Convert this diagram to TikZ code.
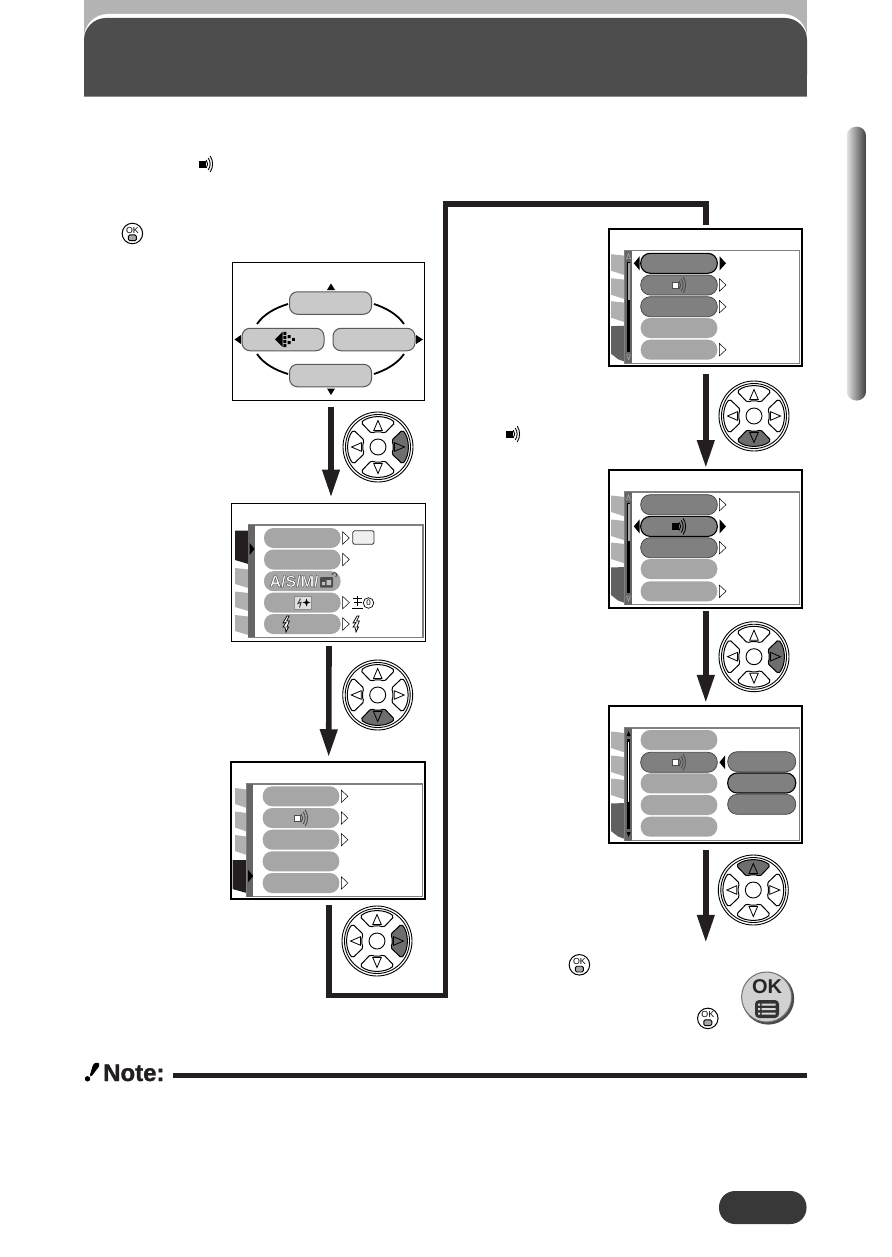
\documentclass[tikz,border=0pt]{standalone}
\usepackage{fontspec}
\setmainfont{Liberation Sans}
\newfontfamily\asmfont[UprightFont=* Bold,FakeBold=2.4]{Liberation Sans}
\newfontfamily\notefont[UprightFont=* Bold,FakeBold=1.2]{Liberation Sans}
\usetikzlibrary{arrows.meta,shapes.geometric}
\definecolor{ink}{HTML}{231F20}
\definecolor{hdark}{HTML}{4D4D4D}
\definecolor{hband}{HTML}{B3B3B3}
\definecolor{pilloffc}{HTML}{A6A6A6}
\definecolor{pillonc}{HTML}{808080}
\definecolor{tabc}{HTML}{B0B0B0}
\definecolor{barc}{HTML}{666666}
\definecolor{padc}{HTML}{6E6E6E}
\tikzset{
  scrthin/.style={draw=black,line width=1pt,fill=white,rectangle,inner sep=0,outer sep=0},
  scrthick/.style={draw=black,line width=2pt,fill=white,rectangle,inner sep=0,outer sep=0},
  pillbase/.style={rectangle,inner sep=0,outer sep=0,minimum width=76.6pt,minimum height=20pt,rounded corners=9.5pt},
  pilloff/.style={pillbase,fill=pilloffc},
  pillon/.style={pillbase,fill=pillonc,draw=black!75,line width=.7pt},
  pillsel/.style={pillbase,fill=pillonc,draw=black,line width=1.1pt},
  homepill/.style={rectangle,inner sep=0,outer sep=0,minimum width=82pt,minimum height=22.5pt,rounded corners=8pt,fill=black!21,draw=black!65,line width=1pt},
  flow/.style={draw=ink,line width=5.6pt},
  flowarr/.style={flow,-{Triangle[length=28pt,width=16.5pt]}},
  panelline/.style={draw=black!50,line width=1.2pt,fill=white},
  wtri/.style={draw=black,line width=.5pt,fill=white},
  btri/.style={fill=black},
  homearc/.style={draw=black,line width=1.8pt},
}
% white triangle pointing right
\newcommand\wtr[2]{\draw[wtri] (#1,#2-6.2) -- (#1+6.6,#2) -- (#1,#2+6.2) -- cycle;}
\newcommand\btr[2]{\fill[btri] (#1,#2-7) -- (#1+6.4,#2) -- (#1,#2+7) -- cycle;}
\newcommand\btl[2]{\fill[btri] (#1,#2-7) -- (#1-5.8,#2) -- (#1,#2+7) -- cycle;}
% d-pad: name,x,y,active angle
\newcommand\dpad[4]{%
  \node[circle,draw=black,line width=.9pt,fill=white,minimum size=70pt,inner sep=0] (#1) at (#2,#3) {};
  \begin{scope}[shift={(#2,#3)}]
    \draw[black,line width=.9pt] (0,0) circle (32.5pt);
    \foreach \a in {0,90,180,270}{%
      \ifnum\a=#4\relax\def\bf{padc}\else\def\bf{white}\fi
      \begin{scope}[rotate=\a]
        \draw[black,line width=1pt,fill=\bf,rounded corners=1.8pt]
          (-17,-24.5) .. controls (-8,-32) and (8,-32) .. (17,-24.5)
          -- (6.5,-13.5) .. controls (3,-15.5) and (-3,-15.5) .. (-6.5,-13.5) -- cycle;
        \draw[black,line width=.8pt,fill=\bf] (0,-26.5) -- (4.3,-16.5) -- (-4.3,-16.5) -- cycle;
      \end{scope}
    }
    \node[circle,draw=black,line width=.9pt,fill=white,minimum size=16pt,inner sep=0] (#1c) at (0,0) {};
  \end{scope}
}
% OK icon
\newcommand\okicon[3]{%
  \node[circle,draw=black,line width=1pt,fill=white,minimum size=20.5pt,inner sep=0] (#1) at (#2,#3) {};
  \begin{scope}[shift={(#2,#3)}]
    \node[inner sep=0,font=\fontsize{8.8}{9}\selectfont] (#1t) at (0,-3.5) {OK};
    \draw[black,line width=.9pt,fill=black!35,rounded corners=1.4pt] (-4,1.4) rectangle (4,7.2);
  \end{scope}
}
% speaker: x,y,fill,arc colour
\newcommand\spk[4]{%
  \begin{scope}[shift={(#1,#2)}]
    \draw[#4,line width=.4pt,fill=#3] (-6.6,-3.2) rectangle (-1,3.2);
    \draw[#4,line width=.9pt] (.2,-4) .. controls (2.2,-1.5) and (2.2,1.5) .. (.2,4);
    \draw[#4,line width=.9pt] (2.2,-6) .. controls (4.8,-2) and (4.8,2) .. (2.2,6);
    \draw[#4,line width=.9pt] (4.2,-8) .. controls (7.4,-3) and (7.4,3) .. (4.2,8);
  \end{scope}
}
% flash bolt
\newcommand\bolt[2]{%
  \draw[black,line width=.7pt,fill=white] (#1+1,#2-8) -- (#1-3,#2-1) -- (#1,#2-1.5) -- (#1-3,#2+3) -- (#1-1,#2+3) -- (#1,#2+8) -- (#1+2.5,#2+3) -- (#1+.8,#2+3) -- (#1+3.4,#2-3) -- (#1+.6,#2-3) -- (#1+3,#2-8) -- cycle;
}
% slanted tab
\newcommand\mtab[6]{\fill[#1] (#2,#4) -- (#3,#4+1.5) -- (#3,#5+#6) -- (#2,#5) -- cycle;}
% right-hand scroll screen
\newcommand\scrollframe[1]{%
  \mtab{tabc}{611}{625}{25.5}{42}{4.5}
  \mtab{tabc}{611}{625}{49.5}{66}{4.5}
  \mtab{tabc}{611}{625}{72.5}{89}{4.5}
  \fill[black!62] (611,97.5) -- (625,97) -- (625,133) -- (618,130.5) -- (611,125) -- cycle;
  \draw[panelline] (625,22) rectangle (799.4,134.6);
  \fill[barc] (625,22) rectangle (632,134.6);
}
\newcommand\scrollpipe{%
  \fill[black] (626.8,33) rectangle (630.2,123);
  \fill[black!35] (627.5,34) rectangle (629.5,71);
  \draw[white!75!black,line width=.4pt] (628.5,25) -- (630.5,30) -- (626.5,30) -- cycle;
  \draw[white!75!black,line width=.4pt] (628.5,131) -- (630.5,126) -- (626.5,126) -- cycle;
}
\begin{document}
\begin{tikzpicture}[x=1pt,y=-1pt]
\useasboundingbox (0,0) rectangle (891,1257);
\fill[white] (0,0) rectangle (891,1257);

% ---------- header ----------
\fill[hband] (84,0) rectangle (807,42);
\fill[white,rounded corners=24pt] (84,97) -- (84,14) -- (807,14) -- (807,97) -- cycle;
\fill[hdark,rounded corners=22pt] (84,97) -- (84,18) -- (807,18) -- (807,97) -- cycle;
\fill[hdark] (84,50) rectangle (807,96.4);
\fill[black!45] (84,96.4) rectangle (807,97.4);

% ---------- side thumb ----------
\shade[left color=black!12,right color=black!75,rounded corners=9pt] (847,126.7) rectangle (866,400.5);

% ---------- inline icons ----------
\spk{206}{164}{black}{black}
\okicon{ok1}{132.4}{233.5}
\spk{513}{434}{black}{black}
\okicon{ok2}{579.4}{964.8}
\okicon{ok3}{707.8}{1018.4}

% ---------- screens and flow lines ----------
\node[scrthin,minimum width=192.5pt,minimum height=138pt] (scr1) at (328.5,331) {};
\node[scrthin,minimum width=194pt,minimum height=138.5pt] (scr2) at (328.5,572.3) {};
\node[scrthick,minimum width=193.5pt,minimum height=137.5pt] (scr3) at (328.2,830.5) {};
\node[scrthick,minimum width=193pt,minimum height=137.5pt] (scr4) at (705.8,297.4) {};
\node[scrthick,minimum width=193pt,minimum height=137.5pt] (scr5) at (705.8,538.8) {};
\node[scrthick,minimum width=193pt,minimum height=137.5pt] (scr6) at (705.8,774.7) {};

\draw[flowarr] ([xshift=2.5pt,yshift=-6.5pt]scr1.south) -- ([xshift=2.5pt,yshift=5.5pt]scr2.north);
\draw[flowarr] ([xshift=.5pt,yshift=-4.5pt]scr2.south) -- ([xshift=.5pt,yshift=4.5pt]scr3.north);
\coordinate (elbowA) at (445.5,995.5);
\coordinate (elbowB) at (445.5,204);
\draw[flow,line join=miter] ([xshift=.8pt,yshift=-6pt]scr3.south) |- (elbowA) -- (elbowB) -| ([yshift=4pt]scr4.north);
\draw[flowarr] ([yshift=-8pt]scr4.south) -- ([yshift=2pt]scr5.north);
\draw[flowarr] ([yshift=-3.5pt]scr5.south) -- ([yshift=3pt]scr6.north);
\node[inner sep=0,minimum size=0] (finish) at (705.8,943) {};
\draw[flowarr] ([yshift=-6.5pt]scr6.south) -- (finish);

% ---------- screen 1 ----------
\node[homepill] (hTop) at (330.5,303) {};
\node[homepill] (hLeft) at (283,339.5) {};
\node[homepill] (hRight) at (374,339.5) {};
\node[homepill] (hBottom) at (330.5,375.5) {};
\draw[homearc] (257,324) .. controls (264,314) and (275,308) .. (288,304);
\draw[homearc] (404,324) .. controls (397,314) and (386,308) .. (374,304);
\draw[homearc] (257,354) .. controls (264,364) and (275,370) .. (288,374);
\draw[homearc] (404,354) .. controls (397,364) and (386,370) .. (374,374);
\fill (331,283.5) -- (335,290) -- (327,290) -- cycle;
\fill (331,395) -- (335,388.5) -- (327,388.5) -- cycle;
\fill (234.5,339.5) -- (241,335) -- (241,344) -- cycle;
\fill (423,339.5) -- (416,335) -- (416,344) -- cycle;
\fill (275,339.5) -- (282.7,331.7) -- (282.7,347) -- cycle;
\fill (283.4,331.8) rectangle (286.4,335) (283.4,336) rectangle (286.4,339) (283.4,340) rectangle (286.4,343) (283.4,344) rectangle (286.4,347);
\fill (287.6,335) rectangle (290.6,338) (287.6,341) rectangle (290.6,344);
\fill (292,338) rectangle (295,341);

% ---------- screen 2 ----------
\mtab{tabc}{235}{248.3}{568}{584}{4}
\mtab{tabc}{235}{248.3}{591.5}{607}{4}
\mtab{tabc}{235}{248.3}{615}{631}{4}
\fill[ink] (235,530.5) -- (248.3,530.5) -- (248.3,564) -- (235,560) -- cycle;
\draw[panelline] (248.3,525) rectangle (423,637.3);
\fill[barc] (248.3,525) rectangle (255,637.3);
\fill[black] (249.5,543) -- (254.6,549) -- (249.5,555) -- cycle;
\node[pilloff] (m1) at (302.3,538) {};
\node[pilloff] (m2) at (302.3,559.5) {};
\node[pilloff] (m3) at (302.3,581.2) {};
\node[pilloff] (m4) at (302.3,602.6) {};
\node[pilloff] (m5) at (302.3,624) {};
\foreach \y in {538,559.5,602.6,624}{\wtr{342.7}{\y}}
\draw[black!80,line width=.8pt,fill=black!6,rounded corners=1.5pt] (352.8,530.8) rectangle (374,544.3);
\node[inner sep=0,font=\asmfont\fontsize{16}{16}\selectfont] (asm) at (294,581.2)
  {\textcolor{white}{\special{pdf:code 0.25 G}A/S/M/}};
\fill[black!70,rounded corners=1pt] (320,577) rectangle (333,587.5);
\fill[black!25] (322,582) rectangle (325,585) (326.5,580) rectangle (331,585);
\draw[black!70,line width=.9pt] (332,575) arc (180:-60:2.4pt);
\fill[black!12] (294.3,596.7) rectangle (311.2,609);
\draw[black!45,line width=.5pt] (294.3,596.7) rectangle (311.2,609);
\draw[black!75,line width=1pt] (300.5,598.5) -- (298,603.5) -- (301,602.5) -- (299.5,607.5);
\fill[black] (306.5,598.5) -- (307.5,601.5) -- (310.3,602.5) -- (307.5,603.5) -- (306.5,606.5) -- (305.5,603.5) -- (302.7,602.5) -- (305.5,601.5) -- cycle;
\draw[black,line width=1pt] (353,598.5) -- (362,598.5) (357.5,596) -- (357.5,606) (353.5,602.5) -- (361.5,602.5) (352,608.5) -- (363,608.5);
\node[circle,draw=black,line width=.7pt,inner sep=0,minimum size=10.5pt,font=\fontsize{8}{8}\selectfont] (ev) at (368.5,603) {0};
\bolt{286}{624}
\bolt{356}{624}

% ---------- screen 3 ----------
\mtab{tabc}{235}{246.7}{788}{804}{4}
\mtab{tabc}{235}{246.7}{811.5}{827.5}{4}
\mtab{tabc}{235}{246.7}{835}{851}{4}
\fill[ink] (232.5,860) -- (246.7,860) -- (246.7,893) -- (232.5,889) -- cycle;
\draw[panelline] (246.7,784) rectangle (422.3,896.7);
\fill[barc] (246.7,784) rectangle (253,896.7);
\fill[black] (248.2,870) -- (253.2,876) -- (248.2,882) -- cycle;
\node[pilloff] (n1) at (301,796.3) {};
\node[pilloff] (n2) at (301,818) {};
\node[pilloff] (n3) at (301,839.7) {};
\node[pilloff] (n4) at (301,861.3) {};
\node[pilloff] (n5) at (301,883) {};
\foreach \y in {796.3,818,839.7,883}{\wtr{341.3}{\y}}
\spk{301}{818}{white}{black!70}

% ---------- screen 4 ----------
\begin{scope}[shift={(0,228.7)}]
\scrollframe{a}
\scrollpipe
\node[pillsel] (p1) at (679,34.6) {};
\node[pillon] (p2) at (679,56.3) {};
\node[pillon] (p3) at (679,78) {};
\node[pilloff] (p4) at (679,99.3) {};
\node[pilloff] (p5) at (679,121) {};
\btl{639.6}{34.6}
\btr{719.6}{34.6}
\foreach \y in {56.3,78,121}{\wtr{719.4}{\y}}
\spk{679}{56.3}{white}{black!70}
\end{scope}

% ---------- screen 5 ----------
\begin{scope}[shift={(0,470)}]
\scrollframe{b}
\scrollpipe
\node[pillon] (q1) at (679,34.7) {};
\node[pillsel] (q2) at (679,56.4) {};
\node[pillon] (q3) at (679,77.7) {};
\node[pilloff] (q4) at (679,99) {};
\node[pilloff] (q5) at (679,121.3) {};
\btl{639.6}{56.4}
\btr{719.6}{56.4}
\foreach \y in {34.7,77.7,121.3}{\wtr{719.4}{\y}}
\spk{679}{56.4}{black}{black}
\end{scope}

% ---------- screen 6 ----------
\begin{scope}[shift={(0,706)}]
\scrollframe{c}
\fill[black] (626.8,33) rectangle (630.2,123);
\fill[white] (628,36) rectangle (629.2,96);
\fill[black] (628.6,25) -- (630.6,30) -- (626.6,30) -- cycle;
\fill[black] (628.6,131) -- (630.6,126) -- (626.6,126) -- cycle;
\node[pilloff] (u1) at (679,34) {};
\node[pillon] (u2) at (679,56.3) {};
\node[pilloff] (u3) at (679,77.3) {};
\node[pilloff] (u4) at (679,99) {};
\node[pilloff] (u5) at (679,120.7) {};
\spk{679}{56.3}{white}{black!70}
\btl{725.2}{56.3}
\node[pillon,minimum width=68pt] (v1) at (761.7,55.7) {};
\node[pillsel,minimum width=68pt] (v2) at (761.7,77) {};
\node[pillon,minimum width=68pt] (v3) at (761.7,98.3) {};
\end{scope}

% ---------- d-pads ----------
\dpad{d1}{378}{447}{270}
\dpad{d2}{377.7}{695}{180}
\dpad{d3}{377}{941}{270}
\dpad{d4}{754}{416}{180}
\dpad{d5}{754}{656.7}{270}
\dpad{d6}{753.3}{890}{0}

% ---------- big OK button ----------
\fill[black!70] (768.2,998.6) circle (26pt);
\node[circle,draw=black!55,line width=1pt,fill=black!18,minimum size=50pt,inner sep=0] (okbig) at (766.6,997) {};
\node[inner sep=0,font=\bfseries\fontsize{20}{20}\selectfont,text=black!85] (okbigt) at (767,987) {OK};
\fill[black!80,rounded corners=4pt] (755,1000) rectangle (779,1018);
\fill[black!15] (758,1003.5) rectangle (760,1005.5) (758,1008) rectangle (760,1010) (758,1012.5) rectangle (760,1014.5);
\fill[black!15] (761.5,1003.5) rectangle (775.5,1005.5) (761.5,1008) rectangle (775.5,1010) (761.5,1012.5) rectangle (775.5,1014.5);

% ---------- note ----------
\fill[black] (96,1062.8) .. controls (99,1062.2) and (100.2,1064) .. (99,1066.5) -- (92.2,1075.5) .. controls (91,1077) and (89.6,1076.4) .. (90,1074.8) -- (92.6,1066) .. controls (93,1064) and (94.5,1063.1) .. (96,1062.8) -- cycle;
\fill[black] (87.5,1078.8) circle (2.7pt);
\node[anchor=base west,inner sep=0,font=\notefont\fontsize{24}{24}\selectfont,text=ink] (note) at (103,1081) {Note:};
\node[inner sep=0,minimum size=0] (ruleend) at (807,1075.3) {};
\draw[ink,line width=5pt] (note.east |- ruleend) ++(8,0) -- (ruleend);

% ---------- page number pill ----------
\fill[black!78,rounded corners=16pt] (719,1191) rectangle (806.5,1224);
\end{tikzpicture}
\end{document}
